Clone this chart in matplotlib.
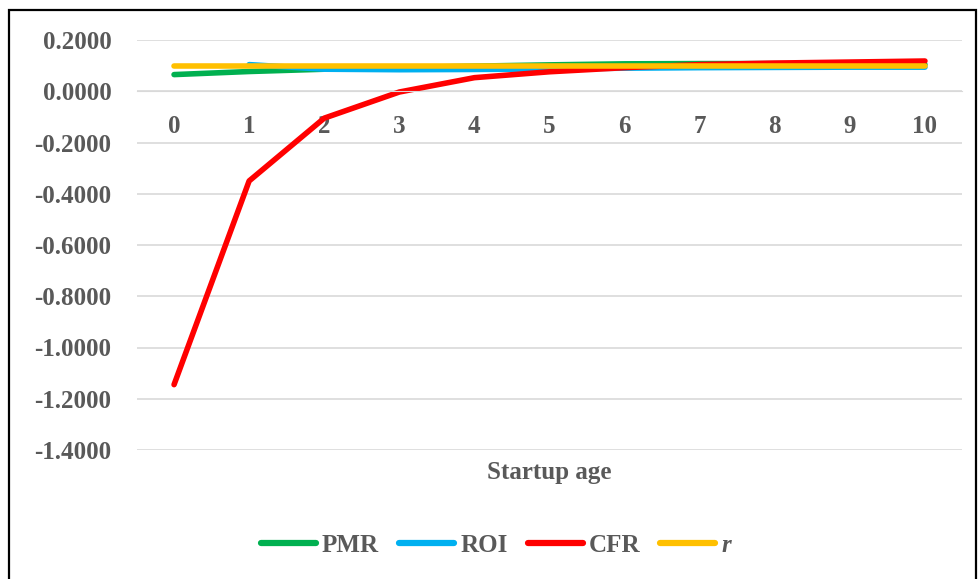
import numpy as np
import matplotlib
matplotlib.use("Agg")
import matplotlib.pyplot as plt
from matplotlib.patches import Rectangle

# Datos
ages = [0, 1, 2, 3, 4, 5, 6, 7, 8, 9, 10]
pmr = [0.065, 0.077, 0.086, 0.092, 0.098, 0.103, 0.107, 0.108, 0.108, 0.106, 0.104]
roi = [np.nan, 0.104, 0.086, 0.084, 0.085, 0.087, 0.090, 0.092, 0.093, 0.094, 0.094]
cfr = [-1.145, -0.350, -0.105, -0.003, 0.053, 0.076, 0.092, 0.104, 0.110, 0.114, 0.118]
r = [0.098, 0.098, 0.098, 0.098, 0.098, 0.098, 0.098, 0.098, 0.098, 0.098, 0.098]
yticks = [0.2, 0.0, -0.2, -0.4, -0.6, -0.8, -1.0, -1.2, -1.4]

gris = "#595959"
plt.rcParams["font.family"] = ["Liberation Serif", "DejaVu Serif"]
plt.rcParams["font.weight"] = "bold"

fig = plt.figure(figsize=(9.79, 5.79), dpi=100)
ax = fig.add_axes([136.5 / 979, 129 / 579, 826 / 979, 410 / 579])

lw = 4.0
ax.plot(ages, pmr, color="#00B050", lw=lw, solid_capstyle="round", label="PMR")
ax.plot(ages, roi, color="#00B0F0", lw=lw, solid_capstyle="round", label="ROI")
ax.plot(ages, cfr, color="#FF0000", lw=lw, solid_capstyle="round", label="CFR")
ax.plot(ages, r, color="#FFC000", lw=lw, solid_capstyle="round", label="r")

ax.set_xlim(-0.5, 10.5)
ax.set_ylim(-1.4, 0.2)
ax.set_yticks(yticks)
ax.set_yticklabels([f"{v:.4f}" for v in yticks])
ax.set_xticks(ages)
ax.grid(axis="y", color="#D9D9D9", lw=1.2)
ax.set_axisbelow(True)
for s in ["top", "right", "left"]:
    ax.spines[s].set_visible(False)
ax.spines["bottom"].set_position(("data", 0))
ax.spines["bottom"].set_color("#D9D9D9")
ax.tick_params(axis="y", length=0, pad=18, labelsize=18, labelcolor=gris)
ax.tick_params(axis="x", length=0, pad=17, labelsize=18, labelcolor=gris)
for t in ax.get_xticklabels() + ax.get_yticklabels():
    t.set_fontweight("bold")

fig.text(549.5 / 979, 1 - 472 / 579, "Startup age", ha="center", va="center",
         fontsize=18, color=gris, fontweight="bold")

leg = fig.legend(loc="center", bbox_to_anchor=(496 / 979, 1 - 545 / 579), ncol=4,
                 frameon=False, handlelength=2.2, handletextpad=0.25,
                 columnspacing=0.8, prop={"weight": "bold", "size": 18})
for t in leg.get_texts():
    t.set_color(gris)
leg.get_texts()[3].set_fontstyle("italic")
for h in leg.get_lines():
    h.set_linewidth(4.5)

# marco negro alrededor
fig.patches.append(Rectangle((9 / 979, -0.02), 967 / 979, 1 - 10 / 579 + 0.02,
                             transform=fig.transFigure, fill=False, ec="black", lw=1.6))

fig.savefig("out.png", dpi=100)
